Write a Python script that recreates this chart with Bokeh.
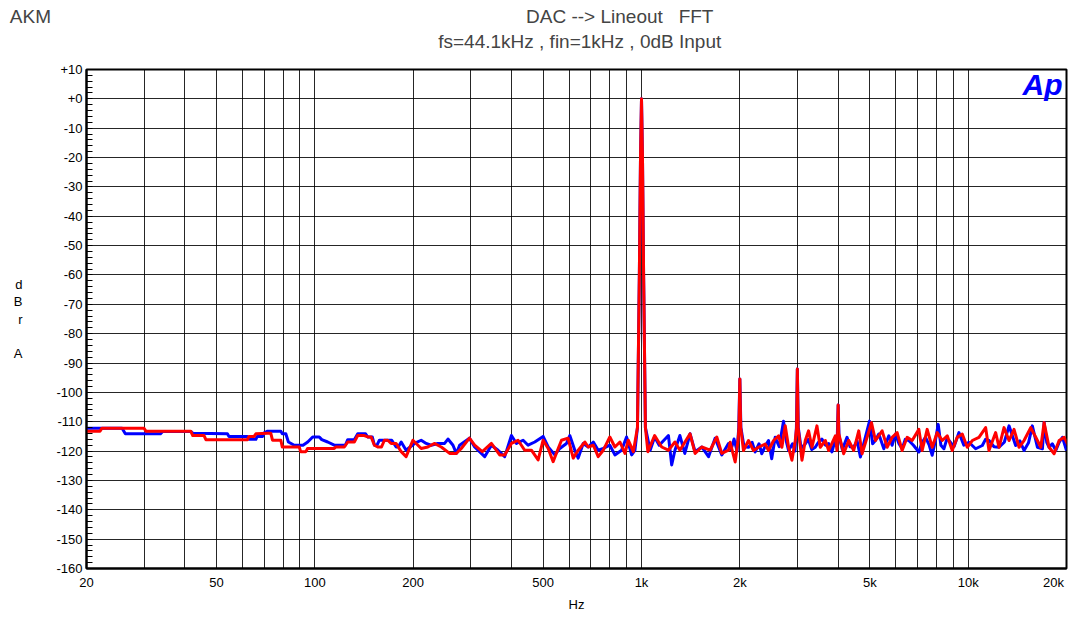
from bokeh.plotting import figure
from bokeh.models import Range1d, FixedTicker, Label, ColumnDataSource, Title
from bokeh.embed import file_html
from bokeh.resources import INLINE

# ---------------- data ----------------
blue_freq = [20, 25.7, 26.3, 33.7, 34.2, 41.7, 42.3, 54, 54.6, 62.2, 62.9, 66, 66.6, 69.2, 70, 71.7,
             78.7, 79.5, 81.5, 83, 86.5, 92, 95.1, 98.5, 103.2, 105, 109.5, 114.7, 124, 126.1, 132.1,
             135.3, 143, 145.2, 150, 152.2, 155, 157.6, 167.2, 172, 177.4, 180, 183.8, 190.3,
             201.9, 211.6, 219.2, 227.1, 238, 249.6, 255.6, 264.8, 271.1, 277.5, 297.4, 308.5, 331.1,
             347.1, 363.9, 381.3, 399.8, 414.1, 434.1, 449.6, 471.3, 499.9, 518, 542.8, 562.3, 589.3,
             603.3, 625, 640, 663, 687, 712, 737, 764, 800, 829, 869, 900, 933, 955,
             972, 985, 993, 1000, 1007, 1015, 1028,
             1063, 1097, 1133, 1209, 1237, 1266, 1311, 1357, 1408, 1459, 1529, 1604, 1680, 1761, 1846,
             1880, 1920, 1962, 1985, 2000, 2015, 2060, 2126, 2180, 2228, 2290, 2335, 2400, 2448, 2504,
             2566, 2640, 2721, 2780, 2820, 2900, 2950, 2980, 3000, 3020, 3080, 3160, 3240, 3320, 3404,
             3480, 3566, 3660, 3740, 3828, 3900, 3975, 4000, 4025, 4120, 4257, 4350, 4463, 4570, 4679,
             4800, 4990, 5100, 5200, 5326, 5519, 5716, 5850, 5990, 6140, 6279, 6420, 6580, 6800, 7064,
             7230, 7403, 7600, 7761, 7920, 8097, 8250, 8428, 8600, 8736, 9050, 9371, 9700, 10051,
             10540, 11049, 11300, 11581, 12000, 12429, 12900, 13337, 13975, 14400, 14828, 15300,
             15720, 16293, 16881, 17079, 17400, 17691, 18100, 18545, 19000, 19443, 20000]
blue_dbr = [-112.2, -112.2, -114.1, -114.1, -113.3, -113.3, -113.9, -114.1, -115, -115, -116, -116, -115, -115, -113.8, -113.2,
            -113.2, -114.1, -114.1, -116.9, -118, -118, -116.9, -115.2, -115.2, -116.1, -116.9, -118, -118, -116.1, -116.1,
            -114.1, -114.1, -115.2, -115.2, -118, -118, -116.3, -116.3, -116.3, -118.6, -118.6, -116.9, -119.7,
            -117.4, -116.3, -117.4, -118, -117.4, -117.4, -115.9, -118, -120.8, -118, -115.6, -118.6, -121.9,
            -118, -119.7, -121.9, -114.7, -117.4, -116.3, -118, -116.9, -115, -118.6, -121.3, -119.1, -117.4,
            -114.7, -119.7, -122.4, -117.4, -118.6, -116.9, -119.7, -119.1, -118, -121.3, -119.7, -115.2, -121.3, -119.7,
            -112, -60, -20, 0, -20, -60, -112,
            -119.7, -115.2, -118, -114.7, -124.7, -119.7, -114.7, -120.8, -114.1, -120.2, -118.6, -121.9, -115.6, -121.3, -117.4,
            -119.5, -115.9, -120, -112, -95.4, -112, -118.5, -118.7, -117, -120.3, -117.5, -120.9, -118, -116.4, -122.6,
            -115.3, -118.5, -109.8, -117, -119.8, -117.5, -120, -112, -92, -112, -119, -117.8, -116, -119.5, -118.7,
            -117, -115.9, -118, -117.4, -120.3, -117, -115, -104.3, -115, -119.5, -115.3, -118.5, -118.7, -116.5, -122,
            -117, -109.8, -117.5, -116.4, -114.2, -119.2, -114.8, -118, -114.2, -117.5, -119.2, -116, -116.4, -118, -120.3,
            -117, -115.3, -118, -121.4, -117, -110.9, -118, -119.2, -116, -116.4, -118.5, -113.7, -118, -117,
            -119.2, -118.1, -116, -116.4, -118.5, -118.7, -117, -111.4, -118.1, -116.5, -119.8, -117.2,
            -111.4, -118.7, -119.2, -110.3, -117, -118.7, -117.5, -119.8, -117, -115.3, -119.8]

red_freq = [20, 22, 22.3, 30, 30.4, 41.7, 42.3, 45.8, 46.4, 62.2, 62.9, 65.2, 66, 71.7, 73.3, 74.2,
            78.7, 79.5, 89.6, 90.5, 93.9, 95, 114.7, 116, 123.1, 126.1, 132.1, 135.3, 141.8, 145.2,
            148.7, 152.2, 155.8, 160, 163.3, 167.2, 171.2, 177.4, 183.8, 190.3,
            199.6, 204.3, 211.6, 221.8, 232, 243.8, 258.6, 271.1, 280.8, 297.4, 308.5, 325.6, 347.1,
            368, 381.3, 399.8, 418.9, 439, 460.3, 482.6, 499.9, 518, 536.5, 556, 569, 596, 618, 640,
            671, 687, 712, 737, 764, 800, 829, 859, 890, 911, 944,
            972, 985, 993, 1000, 1007, 1015, 1028,
            1046, 1097, 1153, 1209, 1266, 1311, 1408, 1459, 1529, 1622, 1700, 1761, 1846,
            1868, 1935, 1975, 1988, 2000, 2012, 2052, 2126, 2202, 2281, 2391, 2448, 2537, 2628, 2690,
            2754, 2820, 2887, 2956, 2985, 3000, 3015, 3099, 3172, 3247, 3325, 3444, 3526, 3654, 3741,
            3921, 3967, 3985, 4000, 4015, 4158, 4308, 4463, 4624, 4734, 4905, 5058, 5202, 5453, 5649,
            5852, 6062, 6279, 6506, 6739, 7064, 7232, 7491, 7761, 8040, 8329, 8629, 8938, 9261, 9593,
            9937, 10295, 10791, 11312, 11581, 12138, 12429, 12875, 13337, 13817, 14314, 14828, 15542,
            16105, 16685, 17079, 17691, 18330, 18987, 19672, 20375]
red_dbr = [-113.2, -113.2, -112.2, -112.2, -113.2, -113.2, -114.7, -114.7, -116.1, -116.1, -115, -115, -114.1, -113.9, -113.9, -116.3,
           -116.3, -118.6, -118.6, -120.2, -120.2, -119.1, -119.1, -118.6, -118.6, -116.9, -116.9, -114.7, -114.7, -115.2,
           -115.2, -118, -118.6, -118.6, -116.3, -116.3, -117.4, -117.4, -120.2, -121.9,
           -116.3, -117.4, -119.1, -118.6, -117.4, -118.6, -120.8, -120.8, -119.1, -115.6, -118, -120.2, -117.4,
           -121.3, -121.3, -117.4, -116.3, -119.7, -119.7, -123, -116.3, -119.1, -123.6, -119.1, -116.3, -115.6, -122.4, -119.7,
           -116.9, -118.6, -118, -121.9, -119.7, -115.2, -118.6, -116.9, -120.8, -116.3, -120.2,
           -112, -60, -20, 0, -20, -60, -112,
           -120.2, -114.7, -118.6, -119.7, -116.9, -119.7, -114.1, -120.8, -118.6, -119.7, -115.2, -120.8, -119.7,
           -117, -123.7, -116.4, -112, -95.4, -112, -119.8, -116.4, -119.8, -118.7, -117.6, -119.8, -116.4, -114.8, -118.7,
           -111.4, -118.7, -123.1, -116.4, -112, -92, -112, -123.1, -116.4, -113.1, -118.7, -111.4, -118.7, -116.4, -119.8,
           -114.8, -119.8, -114, -104.3, -114, -120.9, -116.4, -119.8, -113.1, -120.9, -115.3, -110.3, -116.4, -113.1, -118.7,
           -115.3, -113.7, -119.8, -115.3, -116.4, -112.6, -119.8, -112.6, -118.7, -113.7, -116.4, -114.8, -119.8, -115.3, -114.2,
           -118.7, -116.4, -115.3, -112, -119.8, -113.7, -118.7, -112, -116.4, -112.6, -118.7, -116.4, -112,
           -115.3, -118.7, -110.3, -118.7, -120.9, -116.4, -115.3, -118.7]

# "20k" is printed a little left of the 20 kHz edge in the original, so its label sits at 18.24 kHz
x_tick_values = [20, 50, 100, 200, 500, 1000, 2000, 5000, 10000, 18240]
x_tick_labels = ["20", "50", "100", "200", "500", "1k", "2k", "5k", "10k", "20k"]
x_grid_values = [30, 40, 50, 60, 70, 80, 90, 100, 200, 300, 400, 500, 600, 700, 800, 900,
                 1000, 2000, 3000, 4000, 5000, 6000, 7000, 8000, 9000, 10000]
y_tick_values = [10, 0, -10, -20, -30, -40, -50, -60, -70, -80, -90, -100, -110, -120, -130, -140, -150, -160]
y_tick_labels = ["+10", "+0", "-10", "-20", "-30", "-40", "-50", "-60", "-70", "-80", "-90", "-100",
                 "-110", "-120", "-130", "-140", "-150", "-160"]
y_minor_values = list(range(-160, 11, 2))

FONT = "Liberation Sans"
NB = "\u00a0"

p = figure(width=1068, height=617, x_axis_type="log",
           x_range=Range1d(20, 20000), y_range=Range1d(-160, 10),
           output_backend="svg", toolbar_location=None,
           min_border_left=86, min_border_right=2, min_border_top=69, min_border_bottom=49)
p.background_fill_color = "white"
p.border_fill_color = "white"
p.outline_line_color = "black"
p.outline_line_width = 2

# titles (stacked above the frame)
t2 = Title(text="fs=44.1kHz , fin=1kHz , 0dB Input", align="left", offset=437.7 - 86,
           text_font=FONT, text_font_size="19px", text_font_style="normal", standoff=35)
t1 = Title(text="AKM" + NB * 90 + "DAC" + NB + "-->" + NB + "Lineout" + NB + NB + NB + "FFT",
           align="left", offset=9.3 - 86,
           text_font=FONT, text_font_size="19px", text_font_style="normal", standoff=-30)
p.add_layout(t2, "above")
p.add_layout(t1, "above")

# grid
p.xgrid.ticker = FixedTicker(ticks=x_grid_values)
p.ygrid.ticker = FixedTicker(ticks=y_tick_values)
for g in (p.xgrid, p.ygrid):
    g.grid_line_color = "black"
    g.grid_line_width = 1
    g.grid_line_alpha = 0.85

# axes
p.xaxis.ticker = FixedTicker(ticks=x_tick_values, minor_ticks=[])
p.xaxis.major_label_overrides = dict(zip(x_tick_values, x_tick_labels))
p.yaxis.ticker = FixedTicker(ticks=y_tick_values, minor_ticks=y_minor_values)
p.yaxis.major_label_overrides = dict(zip(y_tick_values, y_tick_labels))
for ax in (p.xaxis, p.yaxis):
    ax.axis_line_color = "black"
    ax.axis_line_width = 2
    ax.major_tick_in = 0
    ax.major_tick_out = 0
    ax.major_label_text_font = FONT
    ax.major_label_text_font_size = "13px"
    ax.major_label_text_color = "black"
    ax.axis_label_text_font = FONT
    ax.axis_label_text_font_style = "normal"
    ax.axis_label_text_color = "black"
p.xaxis.minor_tick_line_color = None
p.xaxis.major_label_standoff = 6
p.xaxis.axis_label = "Hz"
p.xaxis.axis_label_text_font_size = "13px"
p.xaxis.axis_label_standoff = 4
p.yaxis.major_label_standoff = 4
p.yaxis.minor_tick_in = 6
p.yaxis.minor_tick_out = 0
p.yaxis.minor_tick_line_color = "black"
p.yaxis.minor_tick_line_width = 1
p.yaxis.axis_label = "d\nB\nr\n\nA"
p.yaxis.axis_label_orientation = "horizontal"
p.yaxis.axis_label_text_font_size = "13px"
p.yaxis.axis_label_text_line_height = 1.14
p.yaxis.axis_label_standoff = 31

# curves
blue_src = ColumnDataSource(dict(f=blue_freq, db=blue_dbr))
red_src = ColumnDataSource(dict(f=red_freq, db=red_dbr))
p.line("f", "db", source=blue_src, line_color="#0000ff", line_width=3, line_join="round")
p.line("f", "db", source=red_src, line_color="#ff0000", line_width=3, line_join="round")

# Audio Precision logo in the top-right corner of the frame
p.add_layout(Label(x=976, y=484, x_units="screen", y_units="screen", text="Ap",
                   text_font=FONT, text_font_size="30px", text_align="right",
                   text_baseline="alphabetic", text_font_style="bold italic", text_color="#0000ff"))

open("out.html", "w").write(file_html(p, INLINE))
